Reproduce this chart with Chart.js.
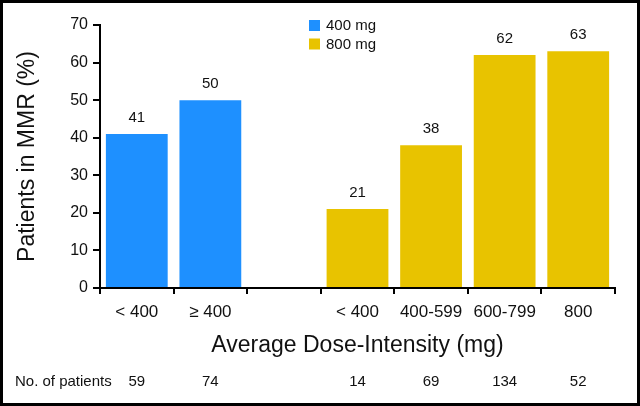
<!DOCTYPE html>
<html>
<head>
<meta charset="utf-8">
<script src="https://cdn.jsdelivr.net/npm/chart.js@4.4.1/dist/chart.umd.min.js"></script>
<style>
  html, body { margin: 0; padding: 0; background: #fff; }
  canvas { display: block; }
</style>
</head>
<body>
<canvas id="chart" width="640" height="406"></canvas>
<script>
const categories = ['< 400', '≥ 400', '', '< 400', '400-599', '600-799', '800'];
const seriesNames = ['400 mg', '800 mg'];
const mmr400 = [41, 50, null, null, null, null, null];
const mmr800 = [null, null, null, 21, 38, 62, 63];
const patients = [59, 74, null, 14, 69, 134, 52];
const yTicks = [0, 10, 20, 30, 40, 50, 60, 70];

const FONT = "'Liberation Sans', Arial, sans-serif";
const BLUE = 'rgb(30, 144, 255)';
const GOLD = 'rgb(232, 195, 0)';
const INK = '#111';

// numeri sopra le barre
const valueLabels = {
  id: 'valueLabels',
  afterDatasetsDraw(chart) {
    const { ctx } = chart;
    ctx.save();
    ctx.font = '15px ' + FONT;
    ctx.fillStyle = INK;
    ctx.textAlign = 'center';
    ctx.textBaseline = 'alphabetic';
    chart.data.datasets.forEach((ds, i) => {
      chart.getDatasetMeta(i).data.forEach((bar, j) => {
        const v = ds.data[j];
        if (v == null) return;
        ctx.fillText(String(v), bar.x, bar.y - 12);
      });
    });
    ctx.restore();
  }
};

// riga "No. of patients"
const patientRow = {
  id: 'patientRow',
  afterDraw(chart) {
    const { ctx, scales } = chart;
    ctx.save();
    ctx.font = '15px ' + FONT;
    ctx.fillStyle = INK;
    ctx.textBaseline = 'alphabetic';
    ctx.textAlign = 'left';
    ctx.fillText('No. of patients', 15, 386);
    ctx.textAlign = 'center';
    patients.forEach((n, j) => {
      if (n == null) return;
      ctx.fillText(String(n), scales.x.getPixelForValue(j), 386);
    });
    ctx.restore();
  }
};

// legenda a mano dentro l'area del grafico
const boxLegend = {
  id: 'boxLegend',
  afterDraw(chart) {
    const { ctx } = chart;
    ctx.save();
    ctx.font = '15px ' + FONT;
    ctx.textBaseline = 'middle';
    ctx.textAlign = 'left';
    chart.data.datasets.forEach((ds, i) => {
      const y = 20 + i * 18.5;
      ctx.fillStyle = ds.backgroundColor;
      ctx.fillRect(309, y, 11, 11);
      ctx.fillStyle = INK;
      ctx.fillText(ds.label, 326, y + 6);
    });
    ctx.restore();
  }
};

// cornice nera
const frame = {
  id: 'frame',
  afterDraw(chart) {
    const { ctx, width, height } = chart;
    ctx.save();
    ctx.strokeStyle = '#000';
    ctx.lineWidth = 3;
    ctx.strokeRect(1.5, 1.5, width - 3, height - 3);
    ctx.restore();
  }
};

new Chart(document.getElementById('chart'), {
  type: 'bar',
  data: {
    labels: categories,
    datasets: [
      { label: seriesNames[0], data: mmr400, backgroundColor: BLUE, grouped: false },
      { label: seriesNames[1], data: mmr800, backgroundColor: GOLD, grouped: false }
    ]
  },
  options: {
    responsive: false,
    animation: false,
    devicePixelRatio: 1,
    layout: { padding: { left: 0, right: 25, top: 25, bottom: 0 } },
    datasets: { bar: { barPercentage: 0.84, categoryPercentage: 1 } },
    plugins: { legend: { display: false }, tooltip: { enabled: false } },
    scales: {
      x: {
        afterFit: s => { s.height = 118; },
        grid: { display: true, offset: true, drawOnChartArea: false, drawTicks: true, tickLength: 6, color: '#000', lineWidth: 2 },
        border: { display: true, color: '#000', width: 2 },
        ticks: { color: INK, font: { family: FONT, size: 17 }, padding: 8, maxRotation: 0, autoSkip: false },
        title: { display: true, text: 'Average Dose-Intensity (mg)', color: INK, font: { family: FONT, size: 23 }, padding: { top: 0, bottom: 47 } }
      },
      y: {
        min: 0,
        max: 70,
        afterFit: s => { s.width = 100; },
        afterBuildTicks: s => { s.ticks = yTicks.map(v => ({ value: v })); },
        grid: { display: true, drawOnChartArea: false, drawTicks: true, tickLength: 7, color: '#000', lineWidth: 2 },
        border: { display: true, color: '#000', width: 2 },
        ticks: { color: INK, font: { family: FONT, size: 16 }, padding: 5 },
        title: { display: true, text: 'Patients in MMR (%)', color: INK, font: { family: FONT, size: 23 }, padding: { top: 14, bottom: 0 } }
      }
    }
  },
  plugins: [valueLabels, patientRow, boxLegend, frame]
});
</script>
</body>
</html>
